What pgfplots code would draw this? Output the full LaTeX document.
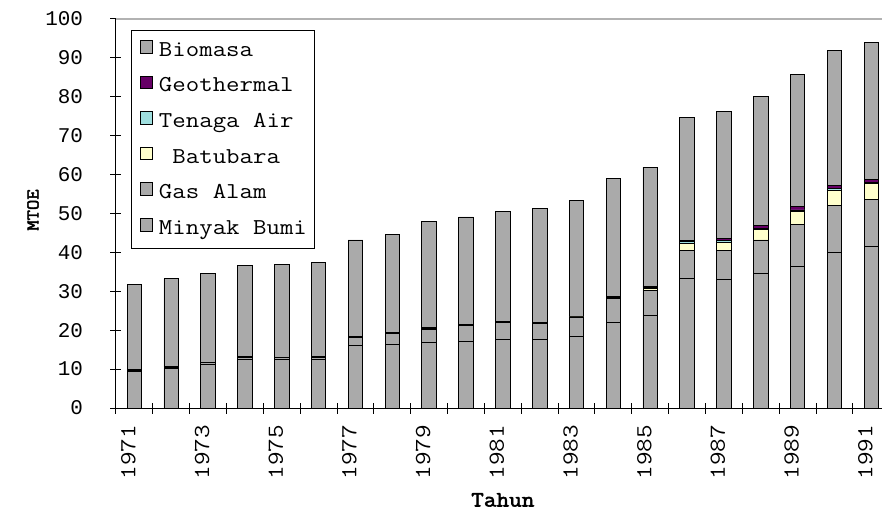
\documentclass[border=0pt]{standalone}
\usepackage{pgfplots}
\pgfplotsset{compat=1.18}
\usepackage{pgfplotstable}
\usepackage{fontspec}
\setmainfont{Liberation Mono}
\newfontfamily\cour[FakeStretch=1.15]{Latin Modern Mono}
\newfontfamily\courb[FakeStretch=1.12, FakeBold=2.5]{Latin Modern Mono}
\definecolor{cgray}{HTML}{AAAAAA}
\definecolor{cpurple}{HTML}{660066}
\definecolor{cteal}{HTML}{9FDFDF}
\definecolor{cyellow}{HTML}{FFFFCC}
\pgfplotstableread{
x minyak gas batu air geo bio
0  9.5  0.2 0.1 0.1 0.0  21.8
1  10.2 0.2 0.1 0.1 0.0  22.6
2  11.3 0.3 0.1 0.1 0.0  22.9
3  12.6 0.4 0.1 0.1 0.0  23.5
4  12.4 0.5 0.1 0.1 0.0  23.9
5  12.5 0.5 0.1 0.1 0.0  24.3
6  16.1 2.0 0.1 0.2 0.0  24.8
7  16.4 2.8 0.1 0.2 0.0  25.2
8  16.9 3.4 0.1 0.2 0.0  27.3
9  17.2 3.9 0.1 0.2 0.0  27.7
10 17.7 4.2 0.1 0.2 0.0  28.4
11 17.7 4.1 0.1 0.2 0.0  29.2
12 18.5 4.8 0.1 0.2 0.05 29.65
13 22.1 6.1 0.1 0.3 0.05 30.25
14 23.7 6.6 0.5 0.3 0.1  30.7
15 33.2 7.4 1.7 0.4 0.3  31.7
16 33.1 7.3 2.2 0.4 0.6  32.7
17 34.7 8.5 2.6 0.3 0.8  33.2
18 36.3 11.0 3.2 0.4 0.9 34.0
19 40.0 12.1 3.9 0.4 0.9 34.5
20 41.6 12.1 3.9 0.4 0.8 35.2
}\data
\begin{document}
\begin{tikzpicture}
\begin{axis}[
  at={(0,0)}, anchor=south west,
  scale only axis, width=766bp, height=389bp,
  xmin=-0.5, xmax=20.29, ymin=0, ymax=100,
  ybar stacked, bar width=14.6bp,
  axis x line*=bottom, axis y line*=left,
  axis line style={line width=1bp, black},
  tick style={black, line width=1bp},
  tick align=center, major tick length=11bp,
  xtick={-0.5,0.5,...,19.5}, xticklabels={},
  extra x ticks={0,2,...,20},
  extra x tick labels={1971,1973,1975,1977,1979,1981,1983,1985,1987,1989,1991},
  extra x tick style={major tick length=0pt, xticklabel style={rotate=90, anchor=base east, inner sep=0pt, xshift=-17bp, yshift=-1bp, font=\cour\fontsize{23}{26}\selectfont}},
  ytick={0,10,...,100},
  extra y ticks={100}, extra y tick labels={},
  extra y tick style={grid=major, major grid style={color=black!30, line width=1.5bp}, major tick length=0pt},
  ticklabel style={font=\fontsize{21}{24}\selectfont},
  /pgf/number format/assume math mode=true,
  yticklabel style={xshift=-24bp},
  ylabel={MTOE},
  ylabel style={at={(axis description cs:-0.1084,0.509)}, anchor=center, font=\courb\fontsize{18}{20}\selectfont},
  xlabel={Tahun},
  xlabel style={at={(axis description cs:0.505,-0.2532)}, anchor=base, inner sep=0pt, font=\courb\fontsize{22}{24}\selectfont},
  reverse legend,
  legend image code/.code={\draw[#1] (0bp,-1.7bp) rectangle (12.6bp,10.9bp); \path[draw=none, fill=none] (12.6bp,0bp) -- (19bp,0bp);},
  legend style={at={(axis description cs:0.0196,0.9717)}, anchor=north west,
    draw=black, line width=1bp, fill=white,
    font=\cour\fontsize{22.8}{26}\selectfont, legend cell align=left,
    inner xsep=8bp, inner ysep=9.5bp, row sep=14.76bp,
    nodes={inner sep=0pt, text height=14.5bp, text depth=4.5bp}},
]
\addplot[fill=cgray, draw=black, line width=0.9bp] table[x=x,y=minyak]{\data};
\addlegendentry{Minyak Bumi}
\addplot[fill=cgray, draw=black, line width=0.9bp] table[x=x,y=gas]{\data};
\addlegendentry{Gas Alam}
\addplot[fill=cyellow, draw=black, line width=0.9bp] table[x=x,y=batu]{\data};
\addlegendentry{\ Batubara}
\addplot[fill=cteal, draw=black, line width=0.9bp] table[x=x,y=air]{\data};
\addlegendentry{Tenaga Air}
\addplot[fill=cpurple, draw=black, line width=0.9bp] table[x=x,y=geo]{\data};
\addlegendentry{Geothermal}
\addplot[fill=cgray, draw=black, line width=0.9bp] table[x=x,y=bio]{\data};
\addlegendentry{Biomasa}
\end{axis}
\pgfresetboundingbox
\useasboundingbox (-116bp,-103bp) rectangle (766bp,408bp);
\end{tikzpicture}
\end{document}
